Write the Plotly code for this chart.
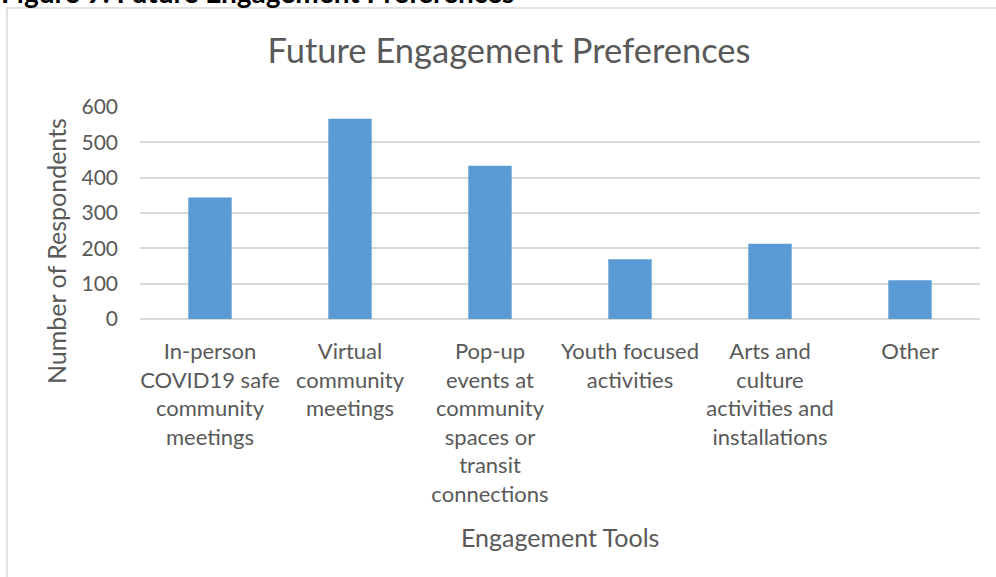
import plotly.graph_objects as go

categories = [
    "In-person<br>COVID19 safe<br>community<br>meetings",
    "Virtual<br>community<br>meetings",
    "Pop-up<br>events at<br>community<br>spaces or<br>transit<br>connections",
    "Youth focused<br>activities",
    "Arts and<br>culture<br>activities and<br>installations",
    "Other",
]
respondents = [344, 567, 434, 169, 213, 110]
y_ticks = [0, 100, 200, 300, 400, 500, 600]

FONT = "Lato"
TEXT = "#595959"
GRID = "#D9D9D9"
BAR = "#5B9BD5"

W, H = 996, 577
ML, MR, MT, MB = 140, 16, 107, 258
pw, ph = W - ML - MR, H - MT - MB


def px_x(px):
    return (px - ML) / pw


def px_y(py):
    return (H - MB - py) / ph


fig = go.Figure()
fig.add_trace(
    go.Bar(
        x=list(range(len(categories))),
        y=respondents,
        width=0.31,
        marker=dict(color=BAR, line=dict(width=0)),
    )
)

fig.update_layout(
    width=W,
    height=H,
    margin=dict(l=ML, r=MR, t=MT, b=MB),
    paper_bgcolor="white",
    plot_bgcolor="white",
    showlegend=False,
    font=dict(family=FONT, color=TEXT, size=22),
    title=dict(
        text="Future Engagement Preferences",
        font=dict(family=FONT, size=34.5, color=TEXT),
        x=509 / W,
        xanchor="center",
        y=1 - 51 / H,
        yanchor="middle",
    ),
)

fig.update_xaxes(
    tickmode="array",
    tickvals=list(range(len(categories))),
    ticktext=categories,
    range=[-0.5, len(categories) - 0.5],
    showgrid=False,
    showline=False,
    zeroline=False,
    ticks="",
    ticklabelstandoff=17,
    tickfont=dict(size=22, color=TEXT),
)
fig.update_yaxes(
    range=[0, 600],
    tickvals=y_ticks,
    showgrid=True,
    gridcolor=GRID,
    gridwidth=1.5,
    zeroline=True,
    zerolinecolor=GRID,
    zerolinewidth=1.5,
    showline=False,
    ticks="",
    ticklabelstandoff=21,
    tickfont=dict(size=21, color=TEXT),
)

# axis titles as annotations (Excel places them off-centre)
fig.add_annotation(
    text="Number of Respondents",
    textangle=-90,
    xref="paper", yref="paper",
    x=px_x(56), y=px_y(251),
    xanchor="center", yanchor="middle",
    showarrow=False,
    font=dict(size=25, color=TEXT),
)
fig.add_annotation(
    text="Engagement Tools",
    xref="paper", yref="paper",
    x=px_x(560), y=px_y(537),
    xanchor="center", yanchor="middle",
    showarrow=False,
    font=dict(size=25, color=TEXT),
)

# cropped document caption above the chart
fig.add_annotation(
    text="<b>Figure 9: Future Engagement Preferences</b>",
    xref="paper", yref="paper",
    x=px_x(-1), y=px_y(11),
    xanchor="left", yanchor="bottom",
    showarrow=False,
    font=dict(size=28, color="black"),
)

# chart frame (only left and top edges fall inside the crop)
fig.add_shape(
    type="rect",
    xref="paper", yref="paper",
    x0=px_x(7), x1=px_x(W + 20),
    y0=px_y(H + 20), y1=px_y(8),
    line=dict(color=GRID, width=1.5),
    layer="below",
)

fig.write_html(
    "out.html",
    config={"displayModeBar": False},
    post_script="document.body.style.margin = '0';",
)
